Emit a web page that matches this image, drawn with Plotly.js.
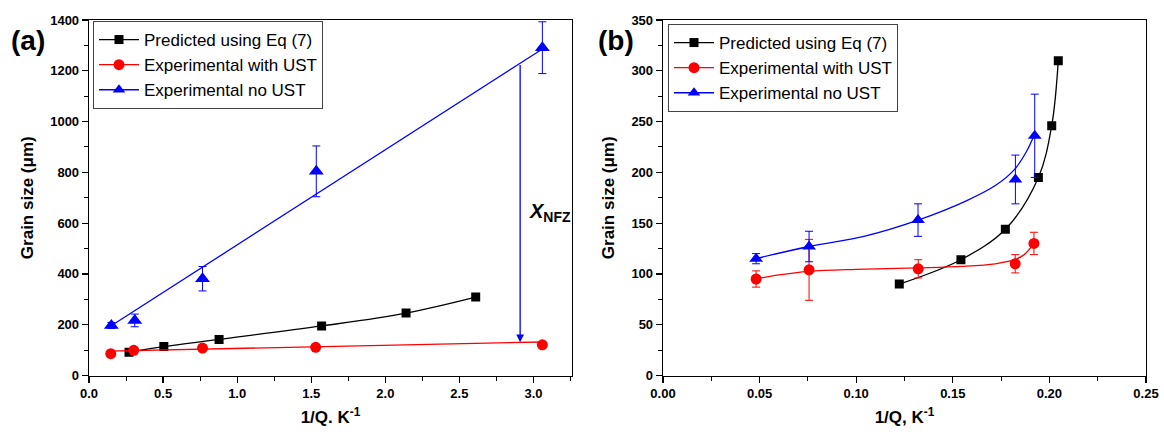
<!DOCTYPE html>
<html><head><meta charset="utf-8">
<script src="https://cdn.plot.ly/plotly-3.0.1.min.js"></script>
<style>html,body{margin:0;padding:0;background:#fff;} #chart{width:1164px;height:435px;}</style>
</head><body><div id="chart"></div>
<script>
// ---------- Panel (a) data ----------
const aPredX = [0.27, 0.505, 0.878, 1.57, 2.14, 2.61];
const aPredY = [92, 114, 142, 195, 246, 309];
const aUstX = [0.147, 0.302, 0.766, 1.53, 3.06];
const aUstY = [86, 99, 108, 111, 121];
const aNoUstX = [0.151, 0.309, 0.766, 1.534, 3.06];
const aNoUstY = [197, 217, 381, 804, 1291];
const aNoUstErr = [12, 25, 48, 100, 102];
const aUstFitX = [0.13, 3.05];
const aUstFitY = [96, 132];
const aNoUstFitX = [0.15, 3.05];
const aNoUstFitY = [196, 1282];
const aArrowX = 2.91;
const aArrowFrom = 1229;
const aArrowTo = 131;

// ---------- Panel (b) data ----------
const bPredX = [0.1223, 0.1542, 0.1772, 0.1943, 0.2012, 0.2046];
const bPredY = [90, 114, 144, 195, 246, 310];
const bUstX = [0.0482, 0.0756, 0.1321, 0.1823, 0.192];
const bUstY = [95, 104, 105, 110, 130];
const bUstErr = [8, 30, 9, 9, 11];
const bNoUstX = [0.0482, 0.0756, 0.132, 0.1824, 0.1924];
const bNoUstY = [115, 127, 153, 193, 236];
const bNoUstErr = [5, 15, 16, 24, 41];
const bUstFitX = [0.048, 0.06, 0.0756, 0.1, 0.132, 0.155, 0.172, 0.182, 0.187, 0.192];
const bUstFitY = [95, 99, 102.5, 104.5, 106, 107.5, 110, 114, 119, 130];
const bNoUstFitX = [0.048, 0.0756, 0.104, 0.132, 0.157, 0.172, 0.182, 0.188, 0.192];
const bNoUstFitY = [115, 127, 137, 153, 172, 187, 203, 220, 236];

const legendNames = ['Predicted using Eq (7)', 'Experimental with UST', 'Experimental no UST'];

const FONT = 'Arial, "Liberation Sans", sans-serif';
const BLACK = '#000000', RED = '#ff0000', BLUE = '#0000ff';

function traces(sfx, legendId, pX, pY, uX, uY, uErr, nX, nY, nErr, ufX, ufY, nfX, nfY, sqSize, triSize) {
  const xa = 'x' + sfx, ya = 'y' + sfx;
  const out = [];
  out.push({x: pX, y: pY, xaxis: xa, yaxis: ya, mode: 'lines+markers', name: legendNames[0], legend: legendId,
    line: {color: BLACK, width: 1.3, shape: 'spline'}, marker: {symbol: 'square', size: sqSize, color: BLACK}});
  out.push({x: [null], y: [null], xaxis: xa, yaxis: ya, mode: 'lines+markers', name: legendNames[1], legend: legendId,
    line: {color: RED, width: 1.3}, marker: {symbol: 'circle', size: 11, color: RED}});
  out.push({x: [null], y: [null], xaxis: xa, yaxis: ya, mode: 'lines+markers', name: legendNames[2], legend: legendId,
    line: {color: BLUE, width: 1.3}, marker: {symbol: 'triangle-up', size: 11, color: BLUE}});
  out.push({x: ufX, y: ufY, xaxis: xa, yaxis: ya, mode: 'lines', showlegend: false,
    line: {color: RED, width: 1.3, shape: 'spline'}});
  out.push({x: nfX, y: nfY, xaxis: xa, yaxis: ya, mode: 'lines', showlegend: false,
    line: {color: BLUE, width: 1.3, shape: 'spline'}});
  const ut = {x: uX, y: uY, xaxis: xa, yaxis: ya, mode: 'markers', showlegend: false,
    marker: {symbol: 'circle', size: 11, color: RED}};
  if (uErr) ut.error_y = {type: 'data', array: uErr, visible: true, color: RED, thickness: 1, width: 4};
  out.push(ut);
  out.push({x: nX, y: nY, xaxis: xa, yaxis: ya, mode: 'markers', showlegend: false,
    marker: {symbol: 'triangle-up', size: triSize, color: BLUE},
    error_y: {type: 'data', array: nErr, visible: true, color: BLUE, thickness: 1, width: 4}});
  return out;
}

const data = [].concat(
  traces('', 'legend', aPredX, aPredY, aUstX, aUstY, null, aNoUstX, aNoUstY, aNoUstErr,
         aUstFitX, aUstFitY, aNoUstFitX, aNoUstFitY, 9, 13),
  traces('2', 'legend2', bPredX, bPredY, bUstX, bUstY, bUstErr, bNoUstX, bNoUstY, bNoUstErr,
         bUstFitX, bUstFitY, bNoUstFitX, bNoUstFitY, 9, 12)
);

const tickFont = {family: FONT, size: 13, color: '#000', weight: 'bold'};
const titleFont = {family: FONT, size: 17, color: '#000', weight: 'bold'};
function axis(extra) {
  return Object.assign({
    showline: true, linecolor: '#000', linewidth: 1.3, mirror: true,
    ticks: 'outside', ticklen: 6, tickwidth: 1.2, tickcolor: '#000',
    showgrid: false, zeroline: false, tickfont: tickFont, fixedrange: true
  }, extra);
}
const yDom = [1 - 375.5 / 435, 1 - 20 / 435];
const legendCommon = {
  xanchor: 'left', yanchor: 'top', bgcolor: '#fff', bordercolor: '#444', borderwidth: 1,
  font: {family: FONT, size: 17, color: '#000'}, tracegroupgap: 0, itemwidth: 40
};

const layout = {
  width: 1164, height: 435,
  margin: {l: 0, r: 0, t: 0, b: 0},
  paper_bgcolor: '#fff', plot_bgcolor: '#fff',
  font: {family: FONT, color: '#000'},
  xaxis: axis({domain: [89 / 1164, 572 / 1164], anchor: 'y', range: [0, 3.26], dtick: 0.5, tick0: 0, tickformat: '.1f',
    minor: {ticks: 'outside', ticklen: 4, tickwidth: 1, tickcolor: '#000', dtick: 0.25, showgrid: false},
    title: {text: '1/Q. K<sup>-1</sup>', font: titleFont, standoff: 10}}),
  yaxis: axis({domain: yDom, anchor: 'x', range: [0, 1400], dtick: 200, tick0: 0,
    minor: {ticks: 'outside', ticklen: 4, tickwidth: 1, tickcolor: '#000', dtick: 100, showgrid: false},
    title: {text: 'Grain size (μm)', font: titleFont, standoff: 12}}),
  xaxis2: axis({domain: [663 / 1164, 1146 / 1164], anchor: 'y2', range: [0, 0.25], dtick: 0.05, tick0: 0, tickformat: '.2f',
    minor: {ticks: 'outside', ticklen: 4, tickwidth: 1, tickcolor: '#000', dtick: 0.025, showgrid: false},
    title: {text: '1/Q, K<sup>-1</sup>', font: titleFont, standoff: 10}}),
  yaxis2: axis({domain: yDom, anchor: 'x2', range: [0, 350], dtick: 50, tick0: 0,
    minor: {ticks: 'outside', ticklen: 4, tickwidth: 1, tickcolor: '#000', dtick: 25, showgrid: false},
    title: {text: 'Grain size (μm)', font: titleFont, standoff: 12}}),
  legend: Object.assign({x: 93 / 1164, y: 1 - 21 / 435}, legendCommon),
  legend2: Object.assign({x: 668 / 1164, y: 1 - 24 / 435}, legendCommon),
  showlegend: true,
  annotations: [
    {xref: 'paper', yref: 'paper', x: 28 / 1164, y: 1 - 40 / 435, text: '<b>(a)</b>', showarrow: false,
     font: {family: FONT, size: 28, color: '#000'}, xanchor: 'center', yanchor: 'middle'},
    {xref: 'paper', yref: 'paper', x: 616 / 1164, y: 1 - 40 / 435, text: '<b>(b)</b>', showarrow: false,
     font: {family: FONT, size: 28, color: '#000'}, xanchor: 'center', yanchor: 'middle'},
    {xref: 'x', yref: 'y', x: aArrowX, y: aArrowTo, ax: aArrowX, ay: aArrowFrom, axref: 'x', ayref: 'y',
     text: '', showarrow: true, arrowhead: 2, arrowsize: 1.2, arrowwidth: 1.3, arrowcolor: BLUE},
    {xref: 'x', yref: 'y', x: 2.955, y: 640, xanchor: 'left', yanchor: 'middle', showarrow: false,
     text: '<b><i>X</i></b><sub><b>NFZ</b></sub>', font: {family: FONT, size: 20, color: '#000'}}
  ]
};

Plotly.newPlot('chart', data, layout, {staticPlot: true, displayModeBar: false});
</script></body></html>
